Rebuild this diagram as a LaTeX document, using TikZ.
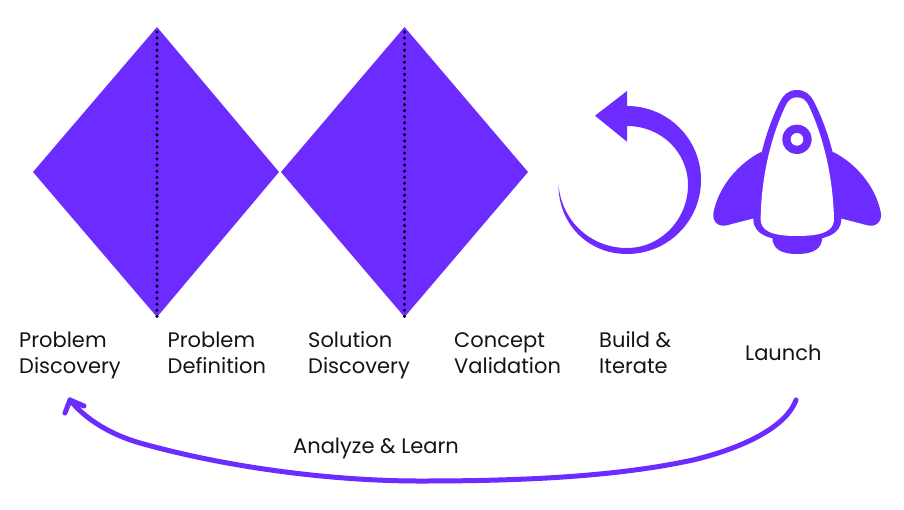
\documentclass[tikz,border=0pt]{standalone}
\usepackage{fontspec}
\usetikzlibrary{calc}
\setmainfont{Poppins}
\definecolor{vio}{HTML}{6C2BFF}
\definecolor{ink}{HTML}{141414}
\tikzset{
  lbl/.style={anchor=base west,align=left,text=ink,inner sep=0pt,font=\fontsize{21}{26}\selectfont},
  dia/.style={fill=vio,draw=none},
  dots/.style={draw=black,line width=3.3pt,line cap=round,dash pattern=on 0pt off 6.05pt},
  loopline/.style={draw=vio,line width=5pt,line cap=round,line join=round}
}
\begin{document}
\begin{tikzpicture}[x=1pt,y=-1pt]
\useasboundingbox (0,0) rectangle (904,509);
% diamonds
\coordinate (d1t) at (157,27); \coordinate (d1b) at (157,317);
\coordinate (d2t) at (404.5,27); \coordinate (d2b) at (404.5,317);
\fill[dia] (33,172) -- (d1t) -- (279,172) -- (d1b) -- cycle;
\fill[dia] (281,172) -- (d2t) -- (528,172) -- (d2b) -- cycle;
\draw[dots] ($(d1t)+(0,5)$) -- (d1b);
\draw[dots] ($(d2t)+(0,5)$) -- (d2b);
% circular arrow
\fill[vio] (595,115.7) -- (627,91) -- (627,106)
  .. controls (668,106) and (701,139) .. (701,180)
  .. controls (701,221) and (668,254) .. (627,254)
  .. controls (588,254) and (558,224) .. (558.5,184)
  .. controls (561,220) and (590,248) .. (627,248)
  .. controls (661,248) and (688,219) .. (688,185)
  .. controls (688,152) and (661,126) .. (627,126)
  -- (627,141.7) -- cycle;
% rocket
\begin{scope}[shift={(550,80)},x=0.3333pt,y=-0.3333pt]
  \fill[vio] (635,215) .. controls (565,250) and (505,320) .. (490,400)
     .. controls (487,425) and (505,442) .. (530,436) -- (615,414) -- (640,300) -- cycle;
  \fill[vio] (848,215) .. controls (918,250) and (978,320) .. (993,400)
     .. controls (996,425) and (978,442) .. (953,436) -- (868,414) -- (843,300) -- cycle;
  \fill[vio] (667,470) .. controls (667,505) and (690,522) .. (741,522)
     .. controls (793,522) and (817,505) .. (817,470) -- cycle;
  \fill[vio] (741,30) .. controls (715,30) and (700,45) .. (690,65)
     .. controls (640,165) and (612,290) .. (610,420)
     .. controls (612,460) and (650,482) .. (741,482)
     .. controls (833,482) and (872,460) .. (874,420)
     .. controls (872,290) and (843,165) .. (792,65)
     .. controls (782,45) and (767,30) .. (741,30) -- cycle;
  \fill[white] (741,52) .. controls (725,52) and (716,60) .. (708,75)
     .. controls (660,175) and (633,300) .. (632,420)
     .. controls (634,450) and (660,468) .. (741,468)
     .. controls (824,468) and (850,450) .. (852,420)
     .. controls (850,300) and (823,175) .. (775,75)
     .. controls (767,60) and (757,52) .. (741,52) -- cycle;
  \fill[vio] (741,178) circle[radius=44pt*0.3333];
  \fill[white] (741,178) circle[radius=19pt*0.3333];
\end{scope}
% labels
\node[lbl] (pd) at (19,373.5) {Problem\\Discovery};
\node[lbl] (pf) at (167.5,373.5) {Problem\\Definition};
\node[lbl] (sd) at (308,373.5) {Solution\\Discovery};
\node[lbl] (cv) at (454,373.5) {Concept\\Validation};
\node[lbl] (bi) at (599,373.5) {Build \&\\Iterate};
\node[lbl] (la) at (745,360) {Launch};
\node[lbl] (al) at (293,453) {Analyze \& Learn};
% loop arrow
\coordinate (ls) at (796,400);
\coordinate (le) at (70,400);
\draw[loopline] (ls) .. controls (785,430) and (735,450) .. (693,460)
   .. controls (610,478) and (510,481) .. (420,481)
   .. controls (330,481) and (225,467) .. (140,443)
   .. controls (112,435) and (86,420) .. (le);
\draw[loopline] (65,413) -- (le) -- (84,406);
\end{tikzpicture}
\end{document}
